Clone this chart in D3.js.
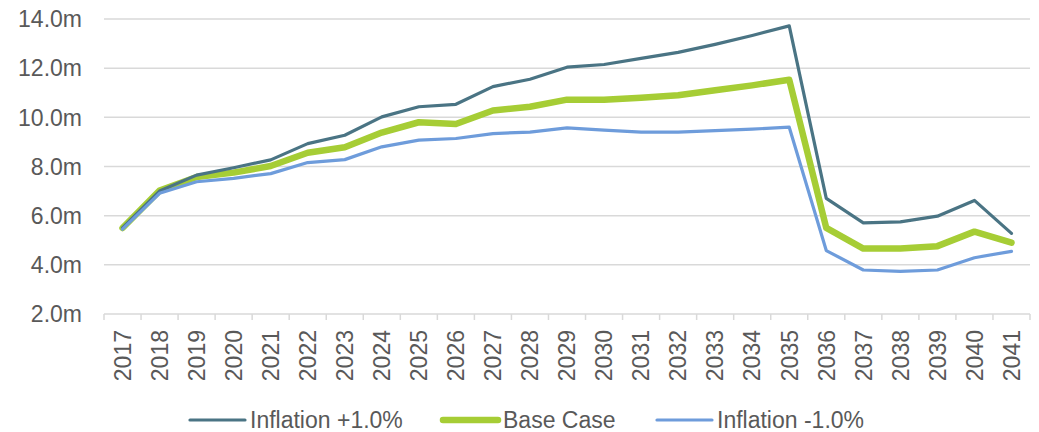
<!DOCTYPE html>
<html>
<head>
<meta charset="utf-8">
<script src="https://cdn.jsdelivr.net/npm/d3@7"></script>
<style>
  body { margin: 0; background: #fff; }
  svg text { font-family: "Liberation Sans", Arial, sans-serif; fill: #595959; }
</style>
</head>
<body>
<svg id="chart" width="1039" height="432"></svg>
<script>
const years = d3.range(2017, 2042).map(String);

const inflationUp = [5.5, 7.0, 7.65, 7.95, 8.27, 8.93, 9.27, 10.02, 10.43, 10.53, 11.25, 11.55,
  12.04, 12.15, 12.4, 12.64, 12.97, 13.33, 13.72, 6.7, 5.71, 5.75, 5.98, 6.62, 5.28];
const baseCase = [5.5, 7.02, 7.57, 7.75, 8.02, 8.56, 8.78, 9.38, 9.8, 9.73, 10.28, 10.43,
  10.72, 10.72, 10.8, 10.9, 11.1, 11.3, 11.53, 5.5, 4.66, 4.66, 4.76, 5.35, 4.9];
const inflationDown = [5.45, 6.91, 7.38, 7.52, 7.71, 8.16, 8.28, 8.8, 9.07, 9.14, 9.34, 9.4,
  9.57, 9.48, 9.4, 9.4, 9.46, 9.52, 9.6, 4.58, 3.79, 3.73, 3.79, 4.29, 4.55];

const yTicks = [2, 4, 6, 8, 10, 12, 14];

const series = [
  { name: "Inflation +1.0%", values: inflationUp, color: "#4a7484", width: 3.2 },
  { name: "Base Case", values: baseCase, color: "#a6cd35", width: 6.5 },
  { name: "Inflation -1.0%", values: inflationDown, color: "#6e9cdb", width: 3.2 }
];

const svg = d3.select("#chart");
const margin = { left: 104, right: 9, top: 19, bottom: 118 };
const W = 1039, H = 432;
const fs = 23;

const x = d3.scaleBand().domain(years).range([margin.left, W - margin.right]);
const y = d3.scaleLinear().domain([2, 14]).range([H - margin.bottom, margin.top]);

// gridlines
svg.append("g")
  .selectAll("line")
  .data(yTicks)
  .join("line")
  .attr("x1", margin.left)
  .attr("x2", W - margin.right)
  .attr("y1", (d) => y(d))
  .attr("y2", (d) => y(d))
  .attr("stroke", "#d9d9d9")
  .attr("stroke-width", 1.5);

// y labels
svg.append("g")
  .selectAll("text")
  .data(yTicks)
  .join("text")
  .attr("x", 82)
  .attr("y", (d) => y(d))
  .attr("dy", "0.36em")
  .attr("text-anchor", "end")
  .attr("font-size", fs)
  .text((d) => d.toFixed(1) + "m");

// x axis ticks
const xAxis = svg.append("g");
const bounds = years.map((d) => x(d)).concat([x(years[years.length - 1]) + x.bandwidth()]);
xAxis.selectAll("line")
  .data(bounds)
  .join("line")
  .attr("x1", (d) => d)
  .attr("x2", (d) => d)
  .attr("y1", y(2))
  .attr("y2", y(2) + 6)
  .attr("stroke", "#d9d9d9")
  .attr("stroke-width", 1.5);

xAxis.selectAll("text")
  .data(years)
  .join("text")
  .attr("transform", (d) => `translate(${x(d) + x.bandwidth() / 2},${y(2) + 16}) rotate(-90)`)
  .attr("dy", "0.36em")
  .attr("text-anchor", "end")
  .attr("font-size", fs)
  .text((d) => d);

// lines
const line = d3.line()
  .x((d, i) => x(years[i]) + x.bandwidth() / 2)
  .y((d) => y(d));

const drawOrder = [series[1], series[0], series[2]];
svg.append("g")
  .selectAll("path")
  .data(drawOrder)
  .join("path")
  .attr("d", (d) => line(d.values))
  .attr("fill", "none")
  .attr("stroke", (d) => d.color)
  .attr("stroke-width", (d) => d.width)
  .attr("stroke-linejoin", "round")
  .attr("stroke-linecap", "round");

// legend
const legendPos = [190, 443, 657];
const legend = svg.append("g")
  .selectAll("g")
  .data(series)
  .join("g")
  .attr("transform", (d, i) => `translate(${legendPos[i]},420)`);

legend.append("line")
  .attr("x1", 0)
  .attr("x2", 55)
  .attr("stroke", (d) => d.color)
  .attr("stroke-width", (d) => d.width)
  .attr("stroke-linecap", "round");

legend.append("text")
  .attr("x", 60)
  .attr("dy", "0.36em")
  .attr("font-size", fs)
  .text((d) => d.name);
</script>
</body>
</html>
